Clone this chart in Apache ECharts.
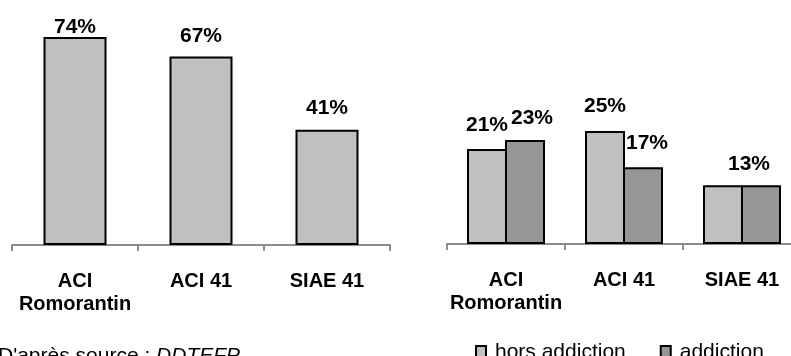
<!DOCTYPE html>
<html>
<head>
<meta charset="utf-8">
<script src="https://cdn.jsdelivr.net/npm/echarts@6/dist/echarts.min.js"></script>
<style>
  html, body { margin: 0; padding: 0; background: #fff; }
  #chart { width: 791px; height: 356px; }
</style>
</head>
<body>
<div id="chart"></div>
<script>
// categories shared by both charts
const categories = ['ACI\nRomorantin', 'ACI 41', 'SIAE 41'];
// left chart: one series
const totalValues = [74, 67, 41];
// right chart: two series
const horsAddiction = [21, 25, 13];
const addiction = [23, 17, 13];
const legendNames = ['hors addiction', 'addiction'];

const FONT = '"Liberation Sans", Arial, sans-serif';

let myChart = echarts.init(document.getElementById('chart'));

const axisLine = { lineStyle: { color: '#8c8c8c', width: 2 } };
const axisTick = { show: true, length: 6, lineStyle: { color: '#8c8c8c', width: 2 } };
const axisLabel = {
  color: '#000',
  fontFamily: FONT,
  fontWeight: 'bold',
  fontSize: 20,
  lineHeight: 23,
  margin: 25,
  interval: 0
};
const barLabel = {
  show: true,
  position: 'top',
  distance: 10,
  color: '#000',
  fontFamily: FONT,
  fontWeight: 'bold',
  fontSize: 21,
  formatter: '{c}%'
};

// small per-bar label tweaks (like Excel's manually moved labels)
function withLabel(values, tweaks) {
  return values.map((v, i) => {
    const t = tweaks[i];
    return t ? { value: v, label: t } : v;
  });
}

let option = {
  animation: false,
  textStyle: { fontFamily: FONT },
  legend: {
    data: legendNames,
    icon: 'rect',
    left: 470,
    top: 337,
    itemWidth: 10,
    itemHeight: 13,
    itemGap: 34,
    textStyle: { color: '#000', fontSize: 21, fontFamily: FONT, padding: [0, 0, 0, 4] }
  },
  grid: [
    { left: 12, width: 378, top: 20, bottom: 111, outerBoundsMode: 'none' },
    { left: 447, width: 354, top: 18, bottom: 112, outerBoundsMode: 'none' }
  ],
  xAxis: [
    {
      gridIndex: 0, type: 'category', data: categories,
      axisLine: axisLine, axisTick: axisTick, axisLabel: axisLabel
    },
    {
      gridIndex: 1, type: 'category', data: categories,
      axisLine: axisLine, axisTick: axisTick, axisLabel: axisLabel
    }
  ],
  yAxis: [
    { gridIndex: 0, type: 'value', min: 0, max: 80, show: false },
    { gridIndex: 1, type: 'value', min: 0, max: 50, show: false }
  ],
  series: [
    {
      name: 'total', type: 'bar', xAxisIndex: 0, yAxisIndex: 0,
      barWidth: 63,
      itemStyle: { color: '#c0c0c0', borderColor: '#000', borderWidth: 2 },
      label: barLabel,
      data: withLabel(totalValues, [{ distance: -1 }, null, { distance: 11 }])
    },
    {
      name: legendNames[0], type: 'bar', xAxisIndex: 1, yAxisIndex: 1,
      barWidth: 40, barGap: '-5%',
      itemStyle: { color: '#c0c0c0', borderColor: '#000', borderWidth: 2 },
      label: barLabel,
      data: withLabel(horsAddiction, [{ distance: 13 }, { distance: 14 }, { show: false }])
    },
    {
      name: legendNames[1], type: 'bar', xAxisIndex: 1, yAxisIndex: 1,
      barWidth: 40, barGap: '-5%',
      itemStyle: { color: '#969696', borderColor: '#000', borderWidth: 2 },
      label: barLabel,
      data: withLabel(addiction, [{ distance: 11, offset: [7, 0] }, { distance: 13, offset: [4, 0] }, { distance: 11, offset: [-12, 0] }])
    }
  ],
  graphic: [
    {
      type: 'text', left: -2, top: 346,
      style: {
        text: "D'après source : {i|DDTEFP}",
        fill: '#000',
        font: '21px ' + FONT,
        rich: { i: { fontStyle: 'italic', fontSize: 21, fontFamily: FONT } }
      }
    }
  ]
};

myChart.setOption(option);
window.addEventListener('resize', () => { myChart.resize(); });
</script>
</body>
</html>
